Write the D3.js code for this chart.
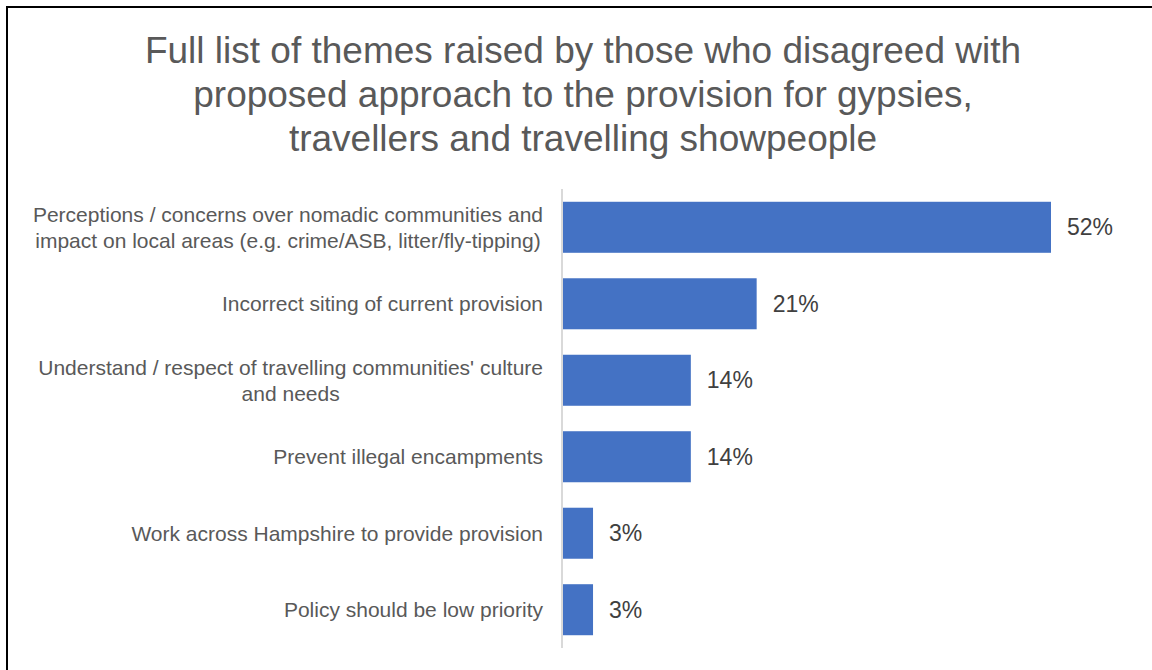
<!DOCTYPE html>
<html>
<head>
<meta charset="utf-8">
<script src="https://cdn.jsdelivr.net/npm/d3@7"></script>
<style>
  html, body { margin: 0; padding: 0; background: #fff; }
  svg { display: block; font-family: "Liberation Sans", Arial, sans-serif; }
</style>
</head>
<body>
<svg id="chart" width="1152" height="670"></svg>
<script>
const titleLines = [
  "Full list of themes raised by those who disagreed with",
  "proposed approach to the provision for gypsies,",
  "travellers and travelling showpeople"
];
const categories = [
  ["Perceptions / concerns over nomadic communities and", "impact on local areas (e.g. crime/ASB, litter/fly-tipping)"],
  ["Incorrect siting of current provision"],
  ["Understand / respect of travelling communities' culture", "and needs"],
  ["Prevent illegal encampments"],
  ["Work across Hampshire to provide provision"],
  ["Policy should be low priority"]
];
const values = [52, 20.7, 13.7, 13.7, 3.3, 3.3];

const svg = d3.select("#chart");
const W = 1152, H = 670;

// frame
svg.append("line").attr("x1", 7).attr("y1", 7).attr("x2", W).attr("y2", 7)
  .attr("stroke", "#000").attr("stroke-width", 2);
svg.append("line").attr("x1", 7).attr("y1", 6).attr("x2", 7).attr("y2", H)
  .attr("stroke", "#000").attr("stroke-width", 2);

// title
svg.append("text")
  .attr("text-anchor", "middle")
  .attr("fill", "#595959")
  .style("font-size", "37px")
  .selectAll("tspan").data(titleLines).join("tspan")
  .attr("x", 583)
  .attr("y", (d, i) => 63 + i * 44)
  .text(d => d);

const x0 = 562;
const x = d3.scaleLinear().domain([0, 52]).range([x0, 1051]);
const y = d3.scaleBand().domain(d3.range(categories.length)).range([189, 648])
  .paddingInner(0.333).paddingOuter(0.167);

// bars
svg.append("g").selectAll("rect").data(values).join("rect")
  .attr("x", x(0))
  .attr("y", (d, i) => y(i))
  .attr("width", d => x(d) - x(0))
  .attr("height", y.bandwidth())
  .attr("fill", "#4472c4");

// axis line
svg.append("line").attr("x1", x0).attr("x2", x0).attr("y1", 189).attr("y2", 648)
  .attr("stroke", "#d9d9d9").attr("stroke-width", 2);

// value labels
svg.append("g").selectAll("text").data(values).join("text")
  .attr("x", d => x(d) + 16)
  .attr("y", (d, i) => y(i) + y.bandwidth() / 2)
  .attr("dy", "0.35em")
  .attr("fill", "#404040")
  .style("font-size", "23px")
  .text(d => d3.format(".0f")(d) + "%");

// category labels (lines centered within a right-aligned block)
const labelRight = 543;
const lh = 26;
categories.forEach((lines, i) => {
  const cy = y(i) + y.bandwidth() / 2;
  const t = svg.append("text")
    .attr("fill", "#595959")
    .attr("text-anchor", "middle")
    .style("font-size", "21px");
  const spans = t.selectAll("tspan").data(lines).join("tspan")
    .attr("y", (d, j) => cy + (j - (lines.length - 1) / 2) * lh)
    .attr("dy", "0.35em")
    .text(d => d);
  let maxW = 0;
  spans.each(function () { maxW = Math.max(maxW, this.getComputedTextLength()); });
  spans.attr("x", labelRight - maxW / 2);
});
</script>
</body>
</html>
